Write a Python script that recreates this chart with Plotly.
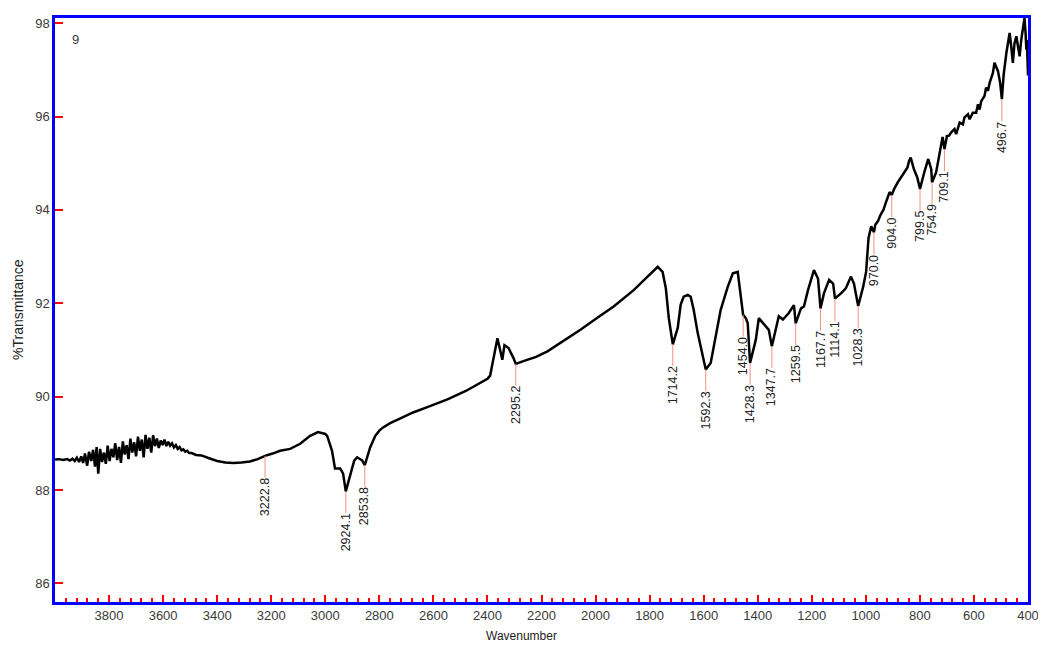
import numpy as np
import plotly.graph_objects as go

# ---- spectrum data (wavenumber in cm-1, %T) ----
wavenumber = [
    4000, 3985, 3970, 3955, 3945, 3935, 3927, 3919,
    3911, 3903, 3896, 3889, 3881, 3874, 3866, 3859,
    3852, 3846, 3840, 3833, 3826, 3819, 3812, 3805,
    3798, 3791, 3784, 3777, 3770, 3763, 3756, 3749,
    3742, 3735, 3728, 3721, 3714, 3707, 3700, 3693,
    3686, 3679, 3672, 3665, 3658, 3651, 3644, 3637,
    3630, 3623, 3616, 3609, 3602, 3595, 3588, 3581,
    3574, 3567, 3560, 3553, 3546, 3539, 3532, 3525,
    3518, 3511, 3504, 3495, 3478, 3458, 3430, 3400,
    3370, 3340, 3310, 3279, 3250, 3222.8, 3195, 3167,
    3130, 3093, 3056, 3027, 3000, 2993, 2975, 2964,
    2945, 2934, 2924.1, 2908, 2893, 2882, 2863, 2853.8,
    2834, 2815, 2800, 2786, 2760, 2734, 2700, 2675,
    2620, 2548, 2480, 2426, 2400, 2390, 2378, 2363,
    2352, 2345, 2337, 2322, 2304, 2295.2, 2267, 2220,
    2178, 2130, 2056, 2000, 1933, 1859, 1807, 1770,
    1752, 1740, 1729, 1714.2, 1696, 1685, 1674, 1659,
    1648, 1637, 1622, 1603, 1592.3, 1574, 1555, 1537,
    1511, 1492, 1474, 1462, 1454.0, 1444, 1437, 1428.3,
    1407, 1396, 1381, 1370, 1359, 1347.7, 1333, 1322,
    1307, 1296, 1285, 1266, 1259.5, 1240, 1229, 1214,
    1192, 1177, 1167.7, 1155, 1136, 1121, 1114.1, 1092,
    1074, 1055, 1044, 1028.3, 1010, 999, 990, 980,
    975, 970.0, 965, 955, 945, 935, 925, 912,
    904.0, 895, 882, 871, 858, 846, 840, 834,
    822, 810, 799.5, 784, 769, 758, 754.9, 740,
    721, 716, 709.1, 700, 692, 684, 672, 666,
    653, 641, 635, 622, 616, 604, 592, 585,
    579, 573, 561, 555, 548, 542, 530, 524,
    511, 503, 496.7, 490, 480, 474, 468, 462,
    456, 450, 443, 437, 431, 425, 419, 413,
    409, 406, 404, 401, 400,
]
transmittance = [
    88.65, 88.66, 88.64, 88.66, 88.63, 88.67, 88.62, 88.69,
    88.60, 88.72, 88.58, 88.78, 88.52, 88.82, 88.62, 88.86,
    88.50, 88.92, 88.35, 88.88, 88.60, 88.80, 88.56, 88.95,
    88.62, 88.88, 88.70, 89.00, 88.64, 88.92, 88.58, 89.04,
    88.76, 88.96, 88.66, 89.10, 88.80, 89.02, 88.72, 89.14,
    88.84, 89.08, 88.70, 89.18, 88.88, 89.12, 88.80, 89.17,
    88.94, 89.10, 88.90, 89.06, 88.96, 89.08, 88.94, 89.03,
    88.95, 89.00, 88.91, 88.96, 88.88, 88.92, 88.85, 88.87,
    88.82, 88.84, 88.79, 88.79, 88.75, 88.74, 88.68, 88.62,
    88.59, 88.58, 88.59, 88.61, 88.66, 88.73, 88.78, 88.84,
    88.88, 88.99, 89.16, 89.24, 89.20, 89.16, 88.84, 88.46,
    88.46, 88.35, 87.97, 88.31, 88.63, 88.70, 88.63, 88.53,
    88.91, 89.16, 89.27, 89.34, 89.43, 89.50, 89.59, 89.66,
    89.78, 89.94, 90.12, 90.30, 90.38, 90.45, 90.83, 91.25,
    90.97, 90.79, 91.10, 91.04, 90.83, 90.70, 90.76, 90.85,
    90.97, 91.15, 91.43, 91.66, 91.93, 92.28, 92.57, 92.78,
    92.67, 92.32, 91.68, 91.12, 91.47, 91.97, 92.14, 92.18,
    92.14, 91.86, 91.36, 90.86, 90.58, 90.72, 91.29, 91.86,
    92.35, 92.64, 92.67, 92.14, 91.75, 91.68, 91.57, 90.72,
    91.22, 91.68, 91.57, 91.50, 91.43, 91.08, 91.43, 91.72,
    91.65, 91.72, 91.79, 91.96, 91.57, 91.89, 91.93, 92.28,
    92.71, 92.53, 91.89, 92.21, 92.50, 92.42, 92.10, 92.21,
    92.32, 92.57, 92.42, 91.94, 92.35, 92.67, 93.40, 93.65,
    93.58, 93.52, 93.68, 93.76, 93.90, 94.00, 94.17, 94.38,
    94.32, 94.45, 94.59, 94.70, 94.80, 94.91, 95.05, 95.12,
    94.87, 94.70, 94.45, 94.80, 95.09, 94.87, 94.59, 94.80,
    95.44, 95.56, 95.30, 95.58, 95.59, 95.66, 95.73, 95.62,
    95.87, 95.83, 95.98, 96.05, 95.94, 96.08, 96.08, 96.26,
    96.15, 96.33, 96.44, 96.62, 96.55, 96.72, 96.93, 97.15,
    96.97, 96.72, 96.37, 96.90, 97.36, 97.64, 97.79, 97.50,
    97.15, 97.57, 97.72, 97.50, 97.29, 97.64, 97.86, 98.11,
    97.79, 97.43, 97.64, 96.90, 96.88,
]

peak_labels = ["3222.8", "2924.1", "2853.8", "2295.2", "1714.2", "1592.3", "1454.0",
               "1428.3", "1347.7", "1259.5", "1167.7", "1114.1", "1028.3", "970.0",
               "904.0", "799.5", "754.9", "709.1", "496.7"]
peak_wn = [3222.8, 2924.1, 2853.8, 2295.2, 1714.2, 1592.3, 1454.0,
           1428.3, 1347.7, 1259.5, 1167.7, 1114.1, 1028.3, 970.0,
           904.0, 799.5, 754.9, 709.1, 496.7]

x_tick_vals = [3800, 3600, 3400, 3200, 3000, 2800, 2600, 2400, 2200, 2000,
               1800, 1600, 1400, 1200, 1000, 800, 600, 400]
y_tick_vals = [86, 88, 90, 92, 94, 96, 98]

FONT = "Liberation Sans, Arial, sans-serif"
TXT = "#3a3a3a"

fig = go.Figure()
fig.add_trace(go.Scatter(
    x=wavenumber, y=transmittance, mode="lines",
    line=dict(color="black", width=2.5), hoverinfo="skip", showlegend=False,
))

wn_asc = np.array(wavenumber[::-1], dtype=float)
t_asc = np.array(transmittance[::-1], dtype=float)
for lab, w in zip(peak_labels, peak_wn):
    yv = float(np.interp(w, wn_asc, t_asc))
    fig.add_annotation(
        x=w, y=yv, text=lab, textangle=-90,
        showarrow=True, arrowhead=0, arrowwidth=1, arrowcolor="#f2907f",
        ax=0, ay=22 + len(lab) * 3.2, standoff=0,
        font=dict(family=FONT, size=12.5, color="#222222"),
        borderpad=0,
    )

fig.add_annotation(x=0.0206, y=0.9626, xref="paper", yref="paper", text="9",
                   showarrow=False, xanchor="center", yanchor="middle",
                   font=dict(family=FONT, size=13, color=TXT))
fig.add_annotation(x=0, y=0.5, xref="paper", yref="paper", text="%Transmittance",
                   textangle=-90, showarrow=False, xanchor="center", yanchor="middle",
                   xshift=-37, font=dict(family=FONT, size=14, color="#222222"))
fig.add_annotation(x=0.479, y=0, xref="paper", yref="paper", text="Wavenumber",
                   showarrow=False, xanchor="center", yanchor="middle",
                   yshift=-34, font=dict(family=FONT, size=12, color="#222222"))

# page body has an 8px default margin, so the figure is sized to fit the window
fig.update_layout(
    width=1038, height=640,
    margin=dict(l=47, r=18, t=7, b=46),
    paper_bgcolor="white", plot_bgcolor="white",
    showlegend=False,
    xaxis=dict(
        range=[4000, 400], tickmode="array", tickvals=x_tick_vals,
        ticktext=[str(v) for v in x_tick_vals],
        ticks="inside", ticklen=7, tickwidth=2, tickcolor="red",
        showline=True, linecolor="blue", linewidth=2.5, mirror=True,
        showgrid=False, zeroline=False,
        tickfont=dict(family=FONT, size=13, color=TXT),
        minor=dict(tickmode="linear", tick0=400, dtick=40, ticks="inside",
                   ticklen=4, tickwidth=2, tickcolor="red", showgrid=False),
    ),
    yaxis=dict(
        range=[85.6, 98.11], tickmode="array", tickvals=y_tick_vals,
        ticktext=[str(v) for v in y_tick_vals],
        ticks="inside", ticklen=8, tickwidth=2, tickcolor="red",
        showline=True, linecolor="blue", linewidth=2.5, mirror=True,
        showgrid=False, zeroline=False,
        tickfont=dict(family=FONT, size=13, color=TXT),
    ),
)

fig.write_html("out.html")
